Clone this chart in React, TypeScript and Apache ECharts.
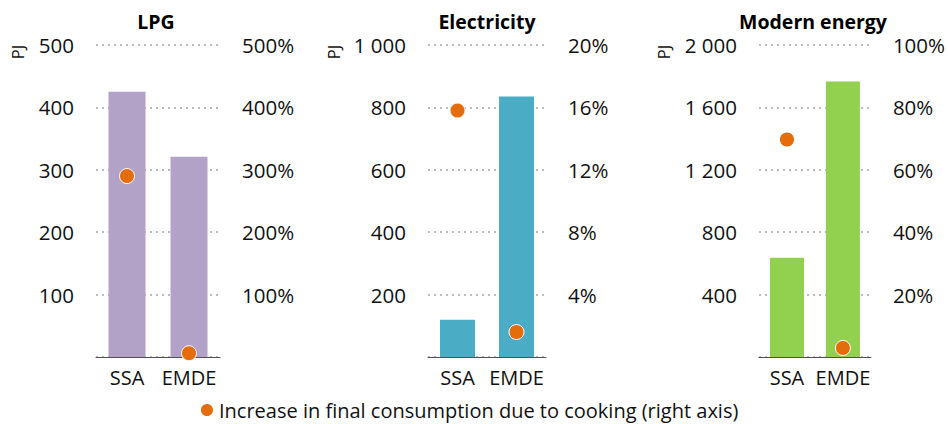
import React, { useEffect, useRef } from "react";
import * as echarts from "echarts";

const categories = ["SSA", "EMDE"];
const panelTitles = ["LPG", "Electricity", "Modern energy"];
const lpgPJ = [425, 321];
const electricityPJ = [119, 835];
const modernPJ = [636, 1766];
const lpgPct = [290, 6];
const electricityPct = [15.8, 1.6];
const modernPct = [69.7, 2.9];
const leftMax = [500, 1000, 2000];
const leftInterval = [100, 200, 400];
const rightMax = [500, 20, 100];
const rightInterval = [100, 4, 20];
const barColors = ["#B3A2C8", "#4BACC6", "#92D050"];
const legendName = "Increase in final consumption due to cooking (right axis)";

const FONT = "Open Sans";
const TEXT = "#111111";

const fmtThousands = (v: number) =>
  v === 0 ? "" : String(v).replace(/\B(?=(\d{3})+(?!\d))/g, " ");

export default function App() {
  const ref = useRef<HTMLDivElement>(null);
  useEffect(() => {
    document.body.style.margin = "0";
    if (!ref.current) return;
    const chart = echarts.init(ref.current, null, { renderer: "svg" });
    const pjData = [lpgPJ, electricityPJ, modernPJ];
    const pctData = [lpgPct, electricityPct, modernPct];
    const grids = [
      { left: 96, width: 124, top: 45, height: 312 },
      { left: 428, width: 118, top: 45, height: 312 },
      { left: 759, width: 114, top: 45, height: 312 },
    ];
    const barWidths = [37, 35, 34];
    const titleX = [156, 487, 813];
    const pjX = [17, 333, 663];

    const xAxis: any[] = [];
    const yAxis: any[] = [];
    const series: any[] = [];
    for (let i = 0; i < 3; i++) {
      xAxis.push({
        type: "category",
        gridIndex: i,
        data: categories,
        axisTick: { show: false },
        axisLine: { lineStyle: { color: "#505050", width: 1 } },
        axisLabel: {
          color: TEXT,
          fontFamily: FONT,
          fontSize: 20,
          margin: 10,
          interval: 0,
        },
      });
      yAxis.push({
        type: "value",
        gridIndex: i,
        min: 0,
        max: leftMax[i],
        interval: leftInterval[i],
        axisLine: { show: false },
        axisTick: { show: false },
        axisLabel: {
          color: TEXT,
          fontFamily: FONT,
          fontSize: 20.5,
          margin: 22,
          formatter: (v: number) => fmtThousands(v),
        },
        splitLine: {
          show: true,
          lineStyle: { color: "#a6a6a6", width: 1.5, type: [2, 4] },
        },
      });
      yAxis.push({
        type: "value",
        gridIndex: i,
        position: "right",
        min: 0,
        max: rightMax[i],
        interval: rightInterval[i],
        axisLine: { show: false },
        axisTick: { show: false },
        splitLine: { show: false },
        axisLabel: {
          color: TEXT,
          fontFamily: FONT,
          fontSize: 20.5,
          margin: 22,
          formatter: (v: number) => (v === 0 ? "" : v + "%"),
        },
      });
      series.push({
        type: "bar",
        name: panelTitles[i],
        xAxisIndex: i,
        yAxisIndex: i * 2,
        data: pjData[i],
        barWidth: barWidths[i],
        itemStyle: { color: barColors[i] },
      });
      series.push({
        type: "scatter",
        name: legendName,
        xAxisIndex: i,
        yAxisIndex: i * 2 + 1,
        data: pctData[i],
        symbol: "circle",
        symbolSize: 15,
        itemStyle: {
          color: "#E46C0A",
          opacity: 1,
          borderColor: "#ffffff",
          borderWidth: 1,
        },
        z: 5,
      });
    }

    const graphic: any[] = [];
    for (let i = 0; i < 3; i++) {
      graphic.push({
        type: "text",
        x: titleX[i],
        y: 21,
        style: {
          text: panelTitles[i],
          fontFamily: FONT,
          fontWeight: "bold",
          fontSize: 19.5,
          fill: "#000",
          textAlign: "center",
          textVerticalAlign: "middle",
        },
      });
      graphic.push({
        type: "text",
        x: pjX[i],
        y: 52,
        rotation: Math.PI / 2,
        style: {
          text: "PJ",
          fontFamily: FONT,
          fontSize: 16.5,
          fill: TEXT,
          textAlign: "center",
          textVerticalAlign: "middle",
        },
      });
    }

    chart.setOption({
      animation: false,
      backgroundColor: "#ffffff",
      grid: grids,
      xAxis,
      yAxis,
      series,
      graphic,
      legend: {
        data: [legendName],
        left: 199,
        top: 400,
        icon: "circle",
        itemWidth: 14,
        itemHeight: 14,
        itemGap: 5,
        padding: 0,
        textStyle: {
          color: TEXT,
          fontFamily: FONT,
          fontSize: 20,
          lineHeight: 20,
        },
      },
    });
    return () => chart.dispose();
  }, []);
  return <div ref={ref} style={{ width: 948, height: 424 }} />;
}
